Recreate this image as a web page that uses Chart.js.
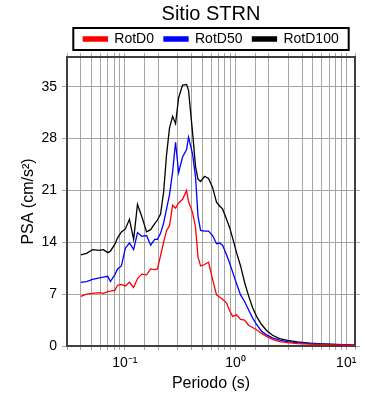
<!DOCTYPE html>
<html>
<head>
<meta charset="utf-8">
<script src="https://cdn.jsdelivr.net/npm/chart.js@4"></script>
<style>
  html, body { margin: 0; padding: 0; background: #fff; }
  #chart { display: block; }
</style>
</head>
<body>
<canvas id="chart" width="390" height="400"></canvas>
<script>
// periodos (s)
const periods = [0.040, 0.045, 0.051, 0.059, 0.064, 0.070, 0.074, 0.081, 0.086, 0.093,
    0.101, 0.110, 0.120, 0.130, 0.142, 0.157, 0.171, 0.186, 0.197, 0.210,
    0.224, 0.238, 0.253, 0.270, 0.287, 0.306, 0.332, 0.361, 0.376, 0.409,
    0.435, 0.458, 0.483, 0.525, 0.570, 0.620, 0.673, 0.717, 0.763, 0.829,
    0.883, 0.940, 1.021, 1.110, 1.206, 1.310, 1.424, 1.548, 1.718, 1.905,
    2.16, 2.50, 2.95, 3.63, 4.66, 6.11, 8.17, 10.7, 11.9];

const rotD0 = [6.7, 7.0, 7.1, 7.2, 7.1, 7.35, 7.4, 7.5, 8.2, 8.3,
    8.1, 8.6, 7.9, 9.1, 9.7, 9.6, 10.4, 10.3, 10.4, 12.2,
    14.0, 15.6, 16.2, 19.0, 18.6, 19.3, 19.8, 21.0, 19.5, 18.0,
    16.0, 12.0, 10.8, 11.0, 11.3, 9.0, 6.9, 6.6, 6.3, 5.8,
    4.8, 4.0, 4.2, 3.6, 3.5, 2.8, 2.5, 2.2, 1.7, 1.3,
    0.9, 0.6, 0.45, 0.33, 0.25, 0.19, 0.14, 0.1, 0.09];

const rotD50 = [8.6, 8.7, 9.0, 9.2, 9.3, 9.4, 8.7, 9.6, 10.4, 10.8,
    13.2, 13.9, 13.0, 15.3, 14.8, 14.9, 13.6, 14.4, 14.4, 15.2,
    16.6, 18.5, 20.4, 23.5, 27.5, 23.4, 25.5, 26.5, 28.2, 25.9,
    22.8, 17.5, 15.6, 15.5, 15.5, 14.9, 13.8, 13.9, 13.6, 12.3,
    11.2, 10.0, 8.4, 6.9, 6.0, 4.9, 3.8, 2.9, 2.0, 1.5,
    1.1, 0.8, 0.6, 0.45, 0.34, 0.25, 0.17, 0.11, 0.09];

const rotD100 = [12.3, 12.5, 13.0, 12.9, 13.0, 12.6, 12.8, 13.7, 14.6, 15.4,
    15.8, 17.1, 14.4, 19.1, 17.5, 15.4, 15.7, 16.5, 17.0, 17.8,
    20.8, 25.8, 29.4, 31.0, 30.0, 33.5, 35.2, 35.3, 34.5, 28.8,
    24.2, 22.5, 22.2, 22.9, 22.6, 21.4, 19.4, 18.9, 18.5, 17.1,
    16.0, 14.6, 12.6, 10.8, 8.6, 6.8, 5.2, 4.0, 2.9, 2.1,
    1.45, 1.0, 0.75, 0.55, 0.4, 0.3, 0.2, 0.14, 0.12];

const seriesNames = ['RotD0', 'RotD50', 'RotD100'];
const seriesColors = ['#ff0000', '#0000ff', '#000000'];
const decadeLabels = {'-1': '10⁻¹', '0': '10⁰', '1': '10¹'};

const FONT = "'Liberation Sans', Arial, Helvetica, sans-serif";
Chart.defaults.font.family = FONT;
Chart.defaults.color = '#000';

function toPoints(values) {
    return periods.map((t, i) => ({x: t, y: values[i]}));
}

// caja alrededor de la leyenda
const legendFrame = {
    id: 'legendFrame',
    afterDraw(chart) {
        const lg = chart.legend;
        const hb = lg.legendHitBoxes;
        if (!hb || !hb.length) return;
        const last = hb[hb.length - 1];
        const x0 = hb[0].left - 10;
        const x1 = last.left + last.width + 10;
        const ctx = chart.ctx;
        ctx.save();
        ctx.strokeStyle = '#000';
        ctx.lineWidth = 2;
        ctx.strokeRect(x0, lg.top + 6, x1 - x0, 22);
        ctx.restore();
    }
};

const datasets = [rotD0, rotD50, rotD100].map((vals, i) => ({
    label: seriesNames[i],
    data: toPoints(vals),
    borderColor: seriesColors[i],
    backgroundColor: seriesColors[i],
    borderWidth: 1.3,
    pointRadius: 0,
    tension: 0
}));

const gridColor = '#a6a6a6';
const frame = {color: '#404040', width: 2};

function decadeLabel(value) {
    const e = Math.log10(value);
    const r = Math.round(e);
    if (Math.abs(e - r) < 1e-6 && decadeLabels[r] !== undefined) return decadeLabels[r];
    return '';
}

new Chart(document.getElementById('chart'), {
    type: 'line',
    data: {datasets: datasets},
    options: {
        responsive: false,
        animation: false,
        layout: {padding: 0},
        plugins: {
            title: {
                display: true,
                text: 'Sitio STRN',
                fullSize: false,
                font: {size: 20, weight: 'normal', lineHeight: 1},
                padding: {top: 4, bottom: -2},
                color: '#000'
            },
            legend: {
                display: true,
                fullSize: false,
                labels: {
                    boxWidth: 24,
                    boxHeight: 4,
                    padding: 10,
                    font: {size: 14},
                    color: '#000'
                }
            },
            tooltip: {enabled: false}
        },
        scales: {
            x: {
                type: 'logarithmic',
                position: 'bottom',
                min: 0.03,
                max: 12,
                afterFit(scale) { scale.height = 54; },
                grid: {color: gridColor, lineWidth: 1, tickLength: 4},
                border: frame,
                ticks: {
                    autoSkip: false,
                    maxRotation: 0,
                    padding: 5,
                    font: {size: 14},
                    callback: decadeLabel
                },
                title: {
                    display: true,
                    text: 'Periodo (s)',
                    font: {size: 16},
                    padding: {top: 0, bottom: 7}
                }
            },
            x2: {
                type: 'logarithmic',
                position: 'top',
                min: 0.03,
                max: 12,
                afterFit(scale) { scale.height = 1; },
                grid: {color: gridColor, drawOnChartArea: false, tickLength: 4},
                border: frame,
                ticks: {autoSkip: false, callback: () => ''}
            },
            y: {
                type: 'linear',
                position: 'left',
                min: 0,
                max: 39,
                afterFit(scale) { scale.width = 67; },
                grid: {color: gridColor, lineWidth: 1, tickLength: 5},
                border: frame,
                ticks: {stepSize: 7, includeBounds: false, padding: 5, font: {size: 14}},
                title: {
                    display: true,
                    text: 'PSA (cm/s²)',
                    font: {size: 16},
                    padding: {top: 19, bottom: 0}
                }
            },
            y2: {
                type: 'linear',
                position: 'right',
                min: 0,
                max: 39,
                afterFit(scale) { scale.width = 35; },
                grid: {color: gridColor, drawOnChartArea: false, tickLength: 5},
                border: frame,
                ticks: {stepSize: 7, includeBounds: false, callback: () => ''}
            }
        }
    },
    plugins: [legendFrame]
});
</script>
</body>
</html>
